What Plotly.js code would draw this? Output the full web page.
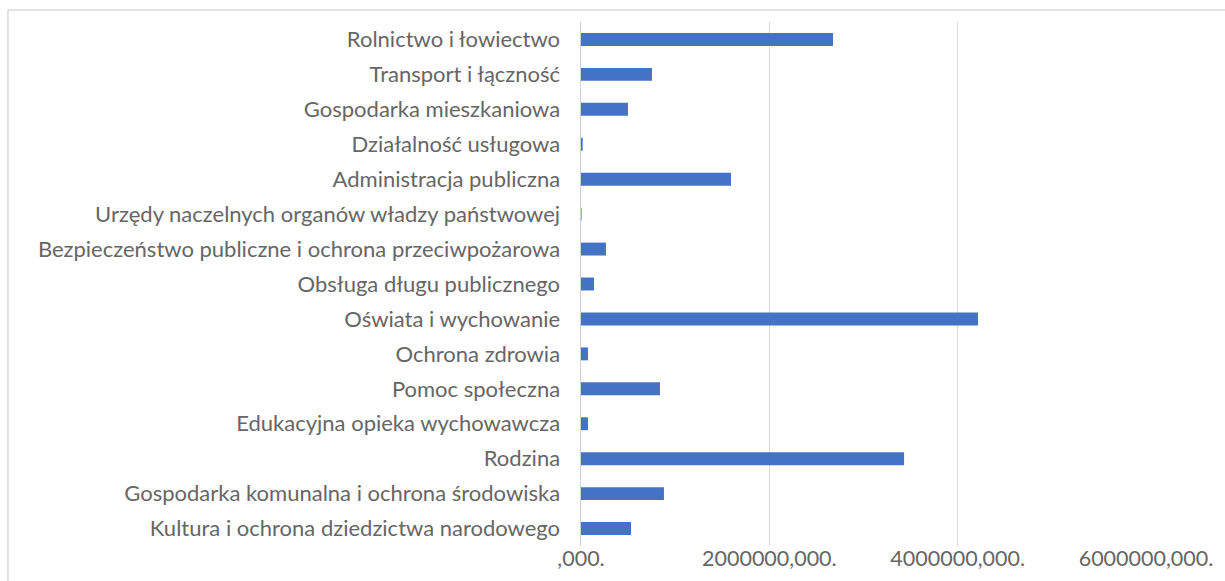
<!DOCTYPE html>
<html>
<head>
<meta charset="utf-8">
<script src="https://cdn.plot.ly/plotly-3.0.1.min.js"></script>
<style>
html,body{margin:0;padding:0;background:#fff;}
#chart{width:1225px;height:581px;}
</style>
</head>
<body>
<div id="chart"></div>
<script>
const categories = [
  "Rolnictwo i łowiectwo",
  "Transport i łączność",
  "Gospodarka mieszkaniowa",
  "Działalność usługowa",
  "Administracja publiczna",
  "Urzędy naczelnych organów władzy państwowej",
  "Bezpieczeństwo publiczne i ochrona przeciwpożarowa",
  "Obsługa długu publicznego",
  "Oświata i wychowanie",
  "Ochrona zdrowia",
  "Pomoc społeczna",
  "Edukacyjna opieka wychowawcza",
  "Rodzina",
  "Gospodarka komunalna i ochrona środowiska",
  "Kultura i ochrona dziedzictwa narodowego"
];
const values = [
  2676000, 754000, 499000, 18000, 1593000, 6000, 265000, 138000,
  4216000, 74000, 839000, 74000, 3431000, 881000, 531000
];
const tickValues = [0, 2000000, 4000000, 6000000];
const tickLabels = [",000.", "2000000,000.", "4000000,000.", "6000000,000."];

const fontFamily = "Lato, 'Open Sans', sans-serif";
const textColor = "#666666";

const trace = {
  type: "bar",
  orientation: "h",
  x: values,
  y: categories,
  marker: {color: "#4472C4"},
  hoverinfo: "x+y"
};

const layout = {
  width: 1225,
  height: 581,
  margin: {l: 581, r: 79, t: 22, b: 35, pad: 0},
  paper_bgcolor: "#ffffff",
  plot_bgcolor: "#ffffff",
  showlegend: false,
  bargap: 0.63,
  font: {family: fontFamily, color: textColor, size: 22},
  xaxis: {
    range: [0, 6000000],
    tickvals: tickValues,
    ticktext: tickLabels,
    showgrid: true,
    gridcolor: "#d9d9d9",
    gridwidth: 1.5,
    zeroline: false,
    showline: false,
    ticks: "",
    ticklabelstandoff: -3,
    tickfont: {family: fontFamily, color: textColor, size: 21.5},
    fixedrange: true
  },
  yaxis: {
    type: "category",
    autorange: "reversed",
    showgrid: false,
    zeroline: false,
    showline: true,
    linecolor: "#d0d0d0",
    linewidth: 1.5,
    ticks: "",
    ticklabelstandoff: 15,
    tickfont: {family: fontFamily, color: textColor, size: 22},
    fixedrange: true
  },
  shapes: [{
    type: "rect",
    xref: "paper", yref: "paper",
    x0: -1.0142, x1: 1.16,
    y0: -0.09, y1: 1.0229,
    line: {color: "#d9d9d9", width: 1.5},
    fillcolor: "rgba(0,0,0,0)",
    layer: "below"
  }]
};

Plotly.newPlot("chart", [trace], layout, {displayModeBar: false, staticPlot: true});
</script>
</body>
</html>
